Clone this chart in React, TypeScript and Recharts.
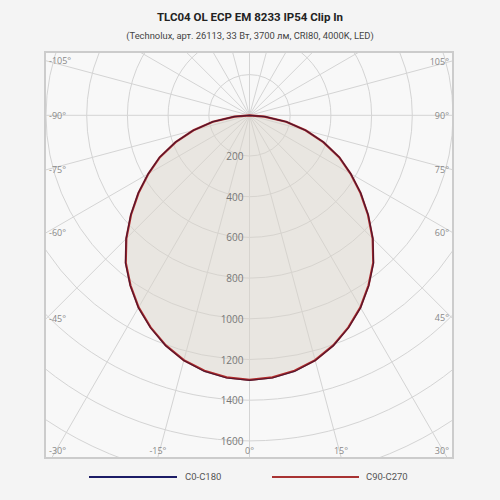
import { RadarChart, Radar, PolarGrid, PolarAngleAxis, PolarRadiusAxis } from "recharts";

// photometric angles (deg) for the half-plane values below
const GAMMA = [0, 5, 10, 15, 20, 25, 30, 35, 40, 45, 50, 55, 60, 65, 70, 75, 80, 85, 90,
  95, 100, 105, 110, 115, 120, 125, 130, 135, 140, 145, 150, 155, 160, 165, 170, 175, 180];

// intensity, cd
const C0_C180 = [1303, 1296, 1278, 1248, 1205, 1152, 1092, 1022, 948, 858, 762, 668, 575, 488, 388, 287, 185, 76, 0,
  0, 0, 0, 0, 0, 0, 0, 0, 0, 0, 0, 0, 0, 0, 0, 0, 0, 0];
const C90_C270 = [1300, 1293, 1275, 1246, 1203, 1150, 1090, 1020, 946, 856, 760, 666, 573, 486, 386, 285, 183, 74, 0,
  0, 0, 0, 0, 0, 0, 0, 0, 0, 0, 0, 0, 0, 0, 0, 0, 0, 0];

const RADIUS_DOMAIN = [0, 2000];
const RADIUS_LABELS = [200, 400, 600, 800, 1000, 1200, 1400, 1600];
const GRID_ANGLES = [0, 15, 30, 45, 60, 75, 90, 105, 120, 135, 150, 165, 180, 195, 210, 225, 240, 255, 270, 285, 300, 315, 330, 345];
const ANGLE_LABELS = [-105, -90, -75, -60, -45, -30, -15, 0, 15, 30, 45, 60, 75, 90, 105];

const STEP = GAMMA[1] - GAMMA[0];
const rows = [];
for (let g = 0; g < 360; g += STEP) {
  const idx = g <= 180 ? GAMMA.indexOf(g) : GAMMA.indexOf(360 - g);
  rows.push({ angle: g, c0: C0_C180[idx], c90: C90_C270[idx] });
}

const W = 406;
const H = 404;
const CX = 203.5;
const CY = 62.3;

function AngleTick(props: any) {
  let g = Number(props.payload.value);
  if (g > 180) g -= 360;
  if (!ANGLE_LABELS.includes(g)) return null;
  const rad = (g * Math.PI) / 180;
  const dx = Math.sin(rad);
  const dy = Math.cos(rad);
  const tx = dx > 1e-6 ? (W - CX) / dx : dx < -1e-6 ? -CX / dx : Infinity;
  const ty = dy > 1e-6 ? (H - CY) / dy : dy < -1e-6 ? -CY / dy : Infinity;
  let x = 0, y = 0, anchor = "middle";
  if (tx < ty) {
    y = CY + tx * dy;
    if (dx < 0) { x = 3; anchor = "start"; } else { x = W - 3; anchor = "end"; }
  } else {
    const px = CX + ty * dx;
    y = H - 7;
    if (px < 20) { x = 3; anchor = "start"; }
    else if (px > W - 20) { x = W - 3; anchor = "end"; }
    else { x = px; anchor = "middle"; }
  }
  return (
    <text x={x} y={y} textAnchor={anchor} dominantBaseline="central" fontSize={9} fill="#888" fontFamily="'Open Sans', sans-serif">
      {g}°
    </text>
  );
}

function RadiusTick(props: any) {
  const v = Number(props.payload.value);
  if (!RADIUS_LABELS.includes(v)) return null;
  return (
    <text x={props.x - 6} y={props.y} textAnchor="end" dominantBaseline="central" fontSize={10} fill="#777" fontFamily="'Open Sans', sans-serif">
      {v}
    </text>
  );
}

export default function App() {
  return (
    <div style={{ position: "absolute", left: 0, top: 0, width: 500, height: 500, background: "#f4f4f4", fontFamily: "Roboto, sans-serif" }}>
      <div style={{ position: "absolute", top: 10, left: 0, width: 500, textAlign: "center", fontSize: 11.5, fontWeight: 700, color: "#222" }}>
        TLC04 OL ECP EM 8233 IP54 Clip In
      </div>
      <div style={{ position: "absolute", top: 30, left: 0, width: 500, textAlign: "center", fontSize: 9.4, color: "#444" }}>
        (Technolux, арт. 26113, 33 Вт, 3700 лм, CRI80, 4000K, LED)
      </div>
      <div style={{ position: "absolute", left: 44, top: 51, width: W + 4, height: H + 4, boxSizing: "border-box", border: "2px solid #cccccc", overflow: "hidden", background: "#f8f8f8" }}>
        {/* radar adds one band to each category angle, so start one step early */}
        <RadarChart
          width={W}
          height={H}
          data={rows}
          cx={CX}
          cy={CY}
          outerRadius={407}
          startAngle={-90 - STEP}
          endAngle={270 - STEP}
          margin={{ top: 0, right: 0, bottom: 0, left: 0 }}
        >
          <PolarGrid gridType="circle" stroke="#d4d4d4" polarAngles={GRID_ANGLES.map((g) => g - 90)} />
          <PolarAngleAxis dataKey="angle" axisLine={false} tickLine={false} tick={AngleTick} />
          <PolarRadiusAxis angle={-90} type="number" domain={RADIUS_DOMAIN} tickCount={11} axisLine={false} tickLine={false} tick={RadiusTick} />
          <Radar name="C90-C270" dataKey="c90" stroke="#b02a2a" strokeWidth={2.2} fill="#d9d3ca" fillOpacity={0.5} dot={false} isAnimationActive={false} />
          <Radar name="C0-C180" dataKey="c0" stroke="#3a1230" strokeWidth={1.2} strokeOpacity={0.8} fill="none" dot={false} isAnimationActive={false} />
        </RadarChart>
      </div>
      <div style={{ position: "absolute", left: 89, top: 476, width: 88, height: 2, background: "#1c1c66" }} />
      <div style={{ position: "absolute", left: 185, top: 471, fontSize: 9.5, color: "#555" }}>C0-C180</div>
      <div style={{ position: "absolute", left: 272, top: 476, width: 87, height: 2, background: "#a83232" }} />
      <div style={{ position: "absolute", left: 366, top: 471, fontSize: 9.5, color: "#555" }}>C90-C270</div>
    </div>
  );
}
